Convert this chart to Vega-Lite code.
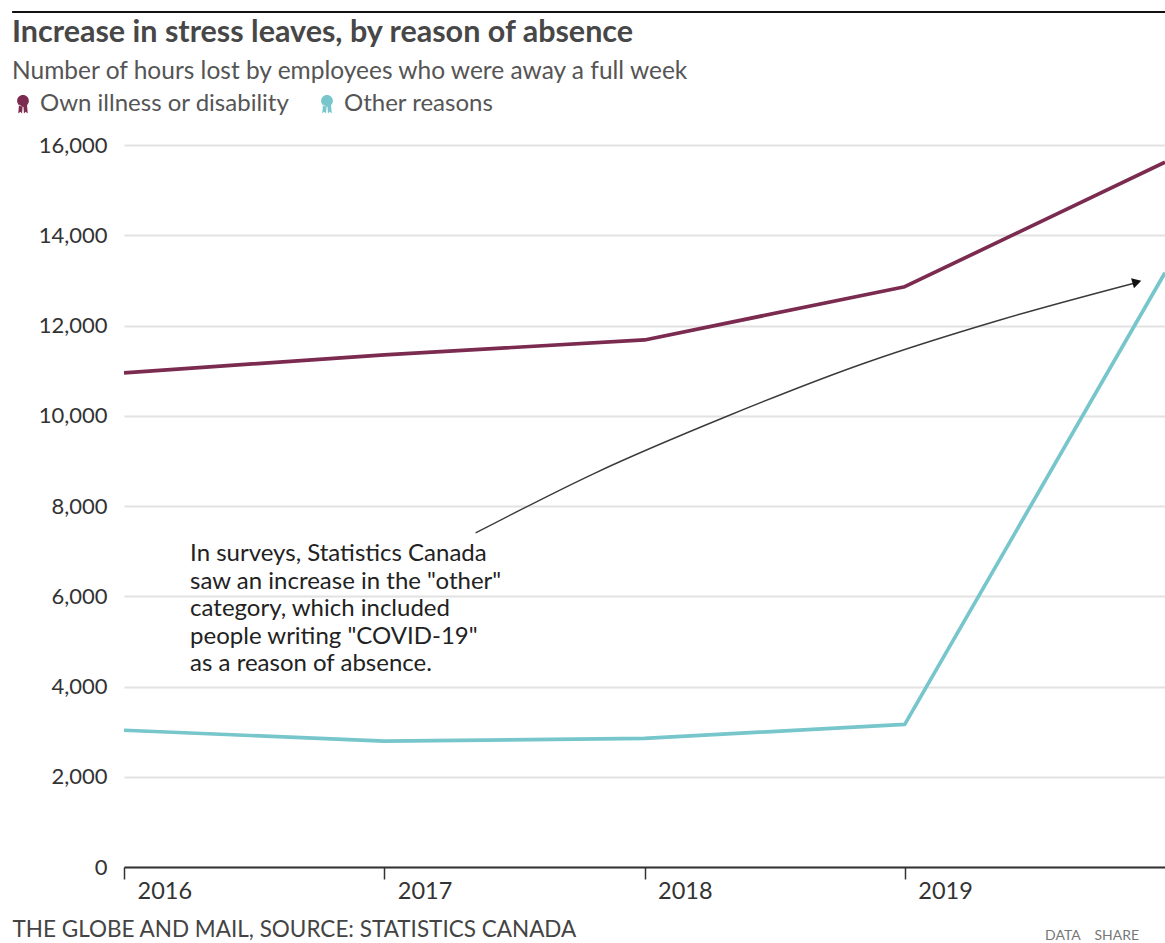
{
  "$schema": "https://vega.github.io/schema/vega-lite/v6.json",
  "width": 1041,
  "height": 722,
  "autosize": "none",
  "padding": {"left": 124, "top": 145, "right": 0, "bottom": 76},
  "background": "white",
  "title": {
    "text": "Increase in stress leaves, by reason of absence",
    "subtitle": "Number of hours lost by employees who were away a full week",
    "anchor": "start",
    "frame": "group",
    "dx": -112,
    "offset": -72,
    "font": "Lato",
    "fontSize": 30.5,
    "fontWeight": "bold",
    "color": "#474747",
    "subtitleFont": "Lato",
    "subtitleFontSize": 24.5,
    "subtitleColor": "#555555",
    "subtitlePadding": 11
  },
  "config": {
    "view": {"stroke": null},
    "font": "Lato",
    "legend": {
      "orient": "none",
      "legendX": -113,
      "legendY": -53,
      "direction": "horizontal",
      "padding": 0,
      "labelFont": "Lato",
      "labelFontSize": 24,
      "labelColor": "#555555",
      "labelLimit": 400,
      "labelOffset": 5,
      "columnPadding": 25,
      "symbolSize": 361,
      "symbolType": "M0,-0.95A0.62,0.62 0 1,1 0,0.29A0.62,0.62 0 1,1 0,-0.95Z M-0.42,0.05L-0.5,1L-0.28,0.82L-0.1,1L-0.05,0.3Z M0.42,0.05L0.5,1L0.28,0.82L0.1,1L0.05,0.3Z",
      "symbolStrokeWidth": 0
    }
  },
  "datasets": {
    "series": [
      {"year": 2016, "hours": 10950, "reason": "Own illness or disability"},
      {"year": 2017, "hours": 11350, "reason": "Own illness or disability"},
      {"year": 2018, "hours": 11680, "reason": "Own illness or disability"},
      {"year": 2019, "hours": 12860, "reason": "Own illness or disability"},
      {"year": 2020, "hours": 15620, "reason": "Own illness or disability"},
      {"year": 2016, "hours": 3030, "reason": "Other reasons"},
      {"year": 2017, "hours": 2790, "reason": "Other reasons"},
      {"year": 2018, "hours": 2850, "reason": "Other reasons"},
      {"year": 2019, "hours": 3160, "reason": "Other reasons"},
      {"year": 2020, "hours": 13170, "reason": "Other reasons"}
    ],
    "arrow": [
      {"year": 2017.351, "hours": 7402},
      {"year": 2017.81, "hours": 8731},
      {"year": 2018.31, "hours": 9972},
      {"year": 2018.847, "hours": 11169},
      {"year": 2019.366, "hours": 12122},
      {"year": 2019.885, "hours": 12942}
    ],
    "arrowhead": [
      {"year": 2019.892, "hours": 12964}
    ]
  },
  "layer": [
    {
      "data": {"name": "series"},
      "mark": {"type": "line", "strokeWidth": 3.7, "strokeJoin": "round"},
      "encoding": {
        "x": {
          "field": "year",
          "type": "quantitative",
          "scale": {"domain": [2016, 2020], "nice": false, "zero": false},
          "axis": {
            "values": [2016, 2017, 2018, 2019],
            "format": "d",
            "grid": false,
            "domainColor": "#333333",
            "domainWidth": 2,
            "tickColor": "#333333",
            "tickWidth": 1.5,
            "tickSize": 12,
            "labelAlign": "left",
            "labelOffset": 13,
            "labelPadding": 0,
            "labelFont": "Lato",
            "labelFontSize": 23.5,
            "labelColor": "#333333",
            "title": "THE GLOBE AND MAIL, SOURCE: STATISTICS CANADA",
            "titleAnchor": "start",
            "titleAlign": "left",
            "titleBaseline": "alphabetic",
            "titleX": -112,
            "titleY": 69,
            "titleFont": "Lato",
            "titleFontSize": 22.5,
            "titleFontWeight": "normal",
            "titleColor": "#444444"
          }
        },
        "y": {
          "field": "hours",
          "type": "quantitative",
          "scale": {"domain": [0, 16000], "nice": false},
          "axis": {
            "values": [0, 2000, 4000, 6000, 8000, 10000, 12000, 14000, 16000],
            "format": ",d",
            "title": null,
            "domain": false,
            "ticks": false,
            "gridColor": "#e2e2e2",
            "gridWidth": 2,
            "labelPadding": 17,
            "labelFont": "Lato",
            "labelFontSize": 22,
            "labelColor": "#333333"
          }
        },
        "color": {
          "field": "reason",
          "type": "nominal",
          "scale": {
            "domain": ["Own illness or disability", "Other reasons"],
            "range": ["#7b2a50", "#76c6cc"]
          },
          "legend": {
            "title": null,
            "encode": {
              "symbols": {
                "update": {
                  "fill": {"scale": "color", "field": "value"},
                  "stroke": {"value": "transparent"},
                  "opacity": {"value": 1}
                }
              }
            }
          }
        }
      }
    },
    {
      "data": {"name": "arrow"},
      "mark": {"type": "line", "interpolate": "monotone", "color": "#3a3a3a", "strokeWidth": 1.4},
      "encoding": {
        "x": {"field": "year", "type": "quantitative"},
        "y": {"field": "hours", "type": "quantitative"}
      }
    },
    {
      "data": {"name": "arrowhead"},
      "mark": {"type": "point", "shape": "triangle-right", "filled": true, "color": "#111111", "size": 110, "angle": 344, "opacity": 1},
      "encoding": {
        "x": {"field": "year", "type": "quantitative"},
        "y": {"field": "hours", "type": "quantitative"}
      }
    },
    {
      "data": {"values": [{}]},
      "mark": {
        "type": "text",
        "text": [
          "In surveys, Statistics Canada",
          "saw an increase in the \"other\"",
          "category, which included",
          "people writing \"COVID-19\"",
          "as a reason of absence."
        ],
        "align": "left",
        "baseline": "alphabetic",
        "font": "Lato",
        "fontSize": 24,
        "lineHeight": 27.5,
        "color": "#222222"
      },
      "encoding": {
        "x": {"datum": 2016.254, "type": "quantitative"},
        "y": {"datum": 6781, "type": "quantitative"}
      }
    },
    {
      "data": {"values": [{}]},
      "mark": {"type": "rule", "color": "#111111", "strokeWidth": 2},
      "encoding": {
        "x": {"datum": 2015.57, "type": "quantitative"},
        "x2": {"datum": 2020},
        "y": {"datum": 18947, "type": "quantitative"}
      }
    },
    {
      "data": {"values": [{}]},
      "mark": {
        "type": "text",
        "text": "DATA\u00a0\u00a0\u00a0\u00a0SHARE",
        "align": "left",
        "baseline": "alphabetic",
        "font": "Lato",
        "fontSize": 14,
        "color": "#777777"
      },
      "encoding": {
        "x": {"datum": 2019.539, "type": "quantitative"},
        "y": {"datum": -1620, "type": "quantitative"}
      }
    }
  ]
}
